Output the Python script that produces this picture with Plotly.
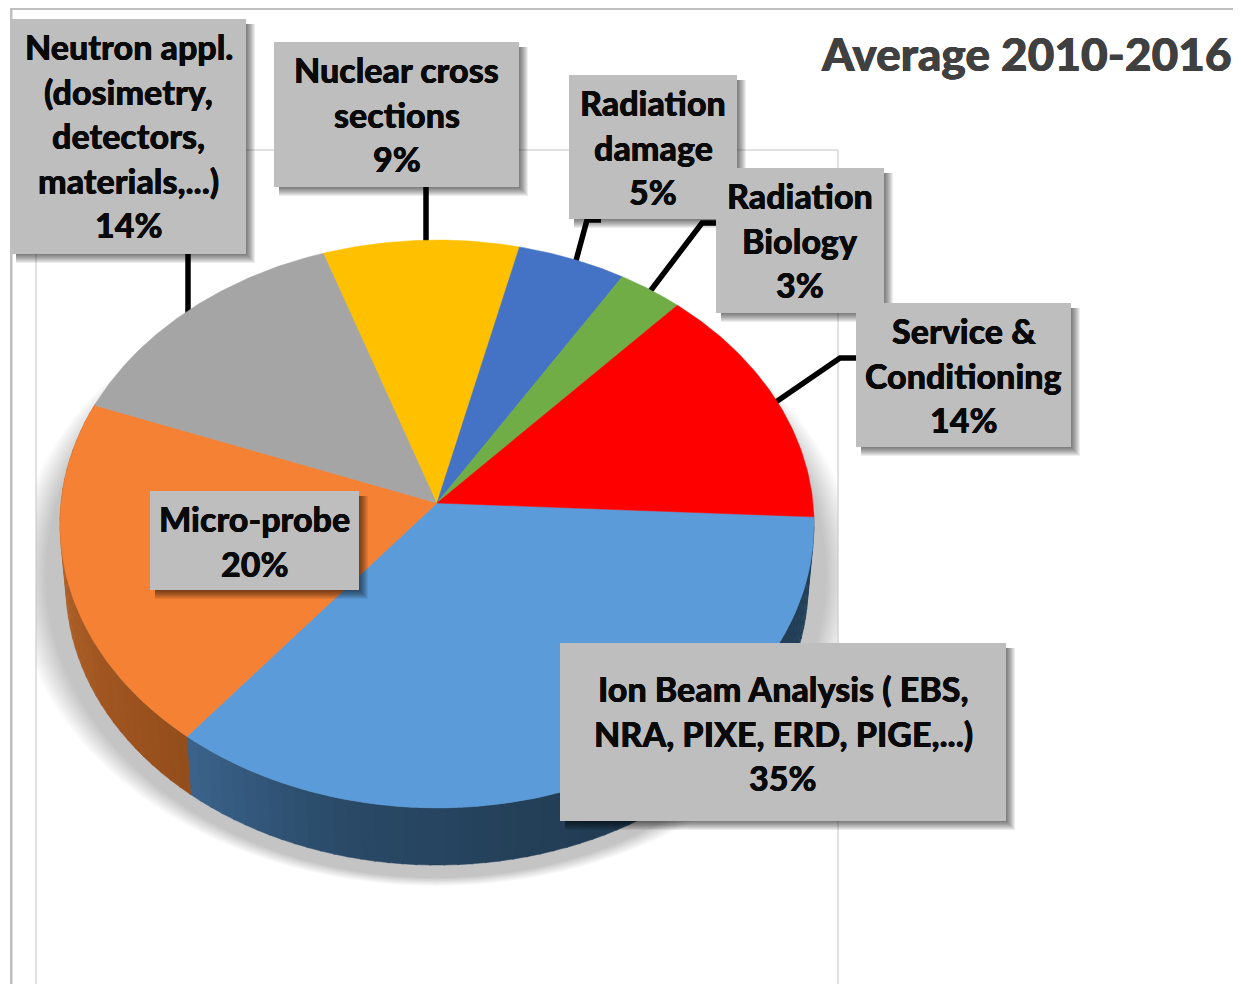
import numpy as np
import plotly.graph_objects as go

# chart data
categories = ['Ion Beam Analysis', 'Micro-probe', 'Neutron appl.', 'Nuclear cross sections',
              'Radiation damage', 'Radiation Biology', 'Service & Conditioning']
shares = [35, 20, 14, 9, 5, 3, 14]
top_colors = ['#5B9BD9', '#F48134', '#A5A5A5', '#FFC000', '#4472C4', '#70AD47', '#FF0000']
label_lines = [
    ['Ion Beam Analysis ( EBS,', 'NRA, PIXE, ERD, PIGE,...)'],
    ['Micro-probe'],
    ['Neutron appl.', '(dosimetry,', 'detectors,', 'materials,...)'],
    ['Nuclear cross', 'sections'],
    ['Radiation', 'damage'],
    ['Radiation', 'Biology'],
    ['Service &', 'Conditioning'],
]
title_text = 'Average 2010-2016'

WIDTH, HEIGHT = 1241, 984
# the page body has an 8px margin, so the axes start at 8 to keep pixel coordinates
BODY_MARGIN = 8
FONT = 'Lato'

# tilted pie geometry (pixels)
APEX_X, APEX_Y = 437, 503
RX, RY, TILT = 376, 282.4, 0.0739
START_DEG = 2.8
WALL_DROP, WALL_SCALE = 62, 0.984


def rim(deg):
    t = np.radians(deg)
    d = 1 - TILT * np.sin(t)
    return APEX_X + RX * np.cos(t) / d, APEX_Y + RY * np.sin(t) / d


def rim_low(deg):
    x, y = rim(deg)
    return APEX_X + WALL_SCALE * (x - APEX_X), APEX_Y + WALL_DROP + WALL_SCALE * (y - APEX_Y)


def lerp_color(stops, f):
    pos = [s[0] for s in stops]
    chans = [np.interp(f, pos, [s[1][i] for s in stops]) for i in range(3)]
    return 'rgb(%d,%d,%d)' % tuple(int(c) for c in chans)


edges = START_DEG + np.cumsum([0] + shares) * 3.6

fig = go.Figure()

# side wall, drawn in thin strips so the shading can run along it
blue_wall = [(0, (36, 64, 90)), (0.5, (34, 60, 83)), (0.8, (42, 74, 104)), (1, (60, 100, 140))]
orange_wall = [(0, (148, 78, 28)), (0.6, (176, 96, 40)), (1, (190, 106, 46))]
for start, end, stops in [(edges[0], edges[1], blue_wall), (edges[1], edges[2], orange_wall)]:
    steps = np.arange(start, end, 2.0).tolist() + [end]
    for a, b in zip(steps[:-1], steps[1:]):
        arc = np.linspace(a, b + 0.3, 4)
        tx, ty = rim(arc)
        lx, ly = rim_low(arc)
        color = lerp_color(stops, ((a + b) / 2 - start) / (end - start))
        fig.add_trace(go.Scatter(
            x=np.concatenate([tx, lx[::-1]]),
            y=np.concatenate([ty, ly[::-1]]),
            mode='lines',
            fill='toself',
            fillcolor=color,
            line=dict(color=color, width=0.5),
            hoverinfo='skip',
            showlegend=False
        ))

# top face slices
for i, name in enumerate(categories):
    arc = np.linspace(edges[i], edges[i + 1], 80)
    rx, ry = rim(arc)
    fig.add_trace(go.Scatter(
        x=np.concatenate([[APEX_X], rx, [APEX_X]]),
        y=np.concatenate([[APEX_Y], ry, [APEX_Y]]),
        mode='lines',
        fill='toself',
        fillcolor=top_colors[i],
        line=dict(color=top_colors[i], width=0.5),
        name=name,
        text=f'{name}: {shares[i]}%',
        hoverinfo='text',
        showlegend=False
    ))

shapes = []


def add_rect(x0, y0, x1, y1, color, layer='above'):
    shapes.append(dict(type='rect', x0=x0, y0=y0, x1=x1, y1=y1, fillcolor=color,
                       line=dict(width=0), layer=layer))


# soft shadow under the pie, cut off at the sides of the plot frame
SHADOW_STEPS = 12
for k in range(SHADOW_STEPS):
    grow = 1 - k / SHADOW_STEPS
    shapes.append(dict(type='circle', x0=436 - 388 - 32 * grow, x1=436 + 388 + 32 * grow,
                       y0=575 - 302 - 9 * grow, y1=575 + 302 + 9 * grow,
                       fillcolor='rgba(0,0,0,0.018)', line=dict(width=0), layer='below'))
add_rect(0, 260, 36, HEIGHT, 'white', 'below')
add_rect(838, 260, WIDTH, HEIGHT, 'white', 'below')

# chart frame
add_rect(10, 8, 12.5, HEIGHT, '#BFBFBF', 'below')
add_rect(10, 8, WIDTH, 10, '#BFBFBF', 'below')
for x0, y0, x1, y1 in [(36, 254, 36, HEIGHT), (36, 150, 838, 150), (838, 150, 838, HEIGHT)]:
    shapes.append(dict(type='line', x0=x0, y0=y0, x1=x1, y1=y1,
                       line=dict(color='#C4C4C4', width=1), layer='below'))

# leader lines from the labels to the slices
leaders = [
    'M 188 250 L 188 325',
    'M 426 185 L 426 250',
    'M 601 220 L 587 220 L 574 268',
    'M 716 223 L 702 223 L 645 298',
    'M 856 358 L 840 358 L 770 406',
]
for path in leaders:
    shapes.append(dict(type='path', path=path, line=dict(color='black', width=5.5), layer='below'))

# label boxes, same order as categories
boxes = [
    (560, 643, 1006, 821),
    (150, 491, 359, 590),
    (11, 19, 246, 254),
    (274, 42, 519, 187),
    (569, 75, 737, 219),
    (716, 168, 884, 313),
    (856, 303, 1071, 447),
]
first_line_y = [688.5, 518.5, 46.5, 69.5, 102.5, 195.5, 330.5]
LINE_GAP = 44.5
draw_order = [2, 3, 4, 5, 6, 1, 0]

annotations = []
for i in draw_order:
    x0, y0, x1, y1 = boxes[i]
    for s in range(1, 10):
        add_rect(x0 + 5, y0 + 5, x1 + s, y1 + s, 'rgba(0,0,0,0.07)')
    add_rect(x0, y0, x1, y1, '#BEBEBE')
    lines = label_lines[i] + [f'{shares[i]}%']
    for n, line in enumerate(lines):
        annotations.append(dict(
            x=(x0 + x1) / 2, y=first_line_y[i] + n * LINE_GAP,
            xref='x', yref='y', text=line, showarrow=False,
            xanchor='center', yanchor='middle',
            font=dict(family=FONT, size=34, color='#0A0A0A', weight=900,
                      shadow='0.25px 0 0 #0A0A0A, -0.25px 0 0 #0A0A0A')
        ))

annotations.append(dict(
    x=1234, y=53, xref='x', yref='y', text=title_text, showarrow=False,
    xanchor='right', yanchor='middle',
    font=dict(family=FONT, size=46, color='#404040', weight=900,
              shadow='0.4px 0 0 #404040, -0.4px 0 0 #404040')
))

fig.update_layout(
    width=WIDTH - BODY_MARGIN,
    height=HEIGHT - BODY_MARGIN,
    margin=dict(l=0, r=0, t=0, b=0),
    paper_bgcolor='white',
    plot_bgcolor='white',
    showlegend=False,
    shapes=shapes,
    annotations=annotations,
    xaxis=dict(range=[BODY_MARGIN, WIDTH], visible=False, fixedrange=True),
    yaxis=dict(range=[HEIGHT, BODY_MARGIN], visible=False, fixedrange=True),
)

fig.write_html("out.html")
